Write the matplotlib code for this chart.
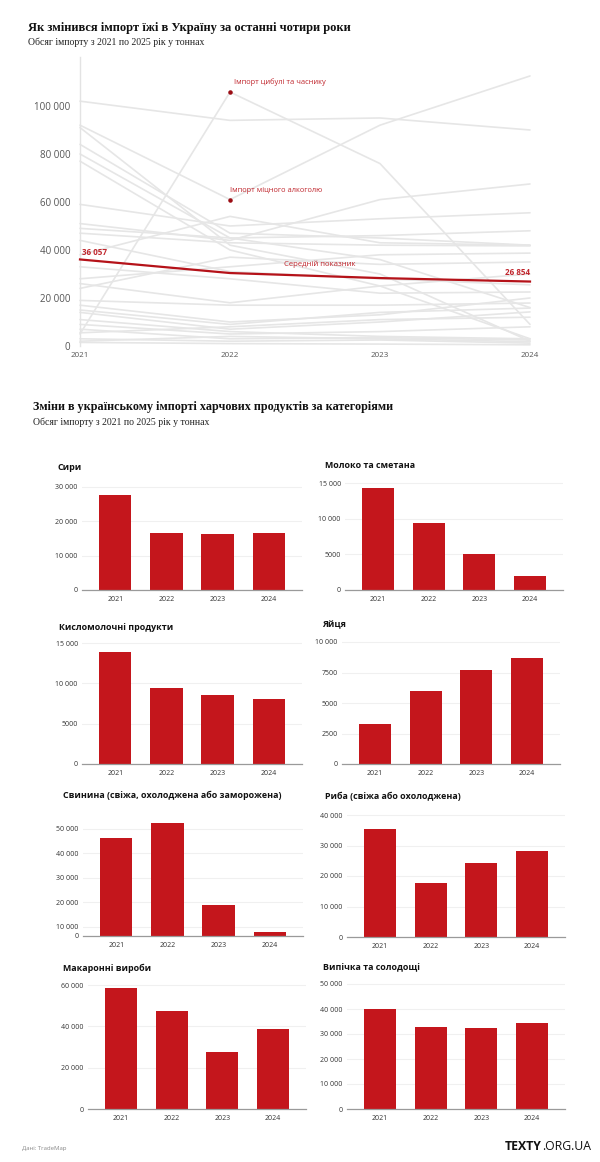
import numpy as np
import matplotlib
matplotlib.use('Agg')
import matplotlib.pyplot as plt

# ---- data ----
years = [2021, 2022, 2023, 2024]
year_labels = ['2021', '2022', '2023', '2024']

# background lines of the top chart (tonnes per year)
product_lines = [
    [102000, 94000, 95000, 90000],
    [5000, 105800, 76000, 9000],
    [92000, 61000, 92000, 112500],
    [91000, 42000, 30000, 2000],
    [84000, 47000, 45000, 42000],
    [80000, 45000, 36000, 16000],
    [77000, 40000, 25000, 3000],
    [59000, 50000, 53000, 55500],
    [51000, 44000, 61000, 67500],
    [49000, 45000, 46000, 48000],
    [38000, 54000, 43000, 42000],
    [28000, 33000, 38000, 38700],
    [26000, 18000, 25000, 30000],
    [24000, 37000, 34000, 35000],
    [19000, 17000, 17000, 17900],
    [17000, 10000, 13000, 20000],
    [15000, 9000, 14000, 15800],
    [14000, 7000, 10000, 14200],
    [9000, 5000, 6000, 8000],
    [7000, 3000, 3500, 2500],
    [3000, 2000, 2500, 1200],
    [1500, 1000, 800, 500],
    [33000, 28000, 22000, 22500],
    [44000, 31000, 28000, 25500],
    [11000, 6000, 4000, 3000],
    [5500, 8000, 11000, 12000],
    [47000, 43000, 42000, 41700],
    [2000, 4000, 3000, 1800],
]
average_line = [36057, 30400, 28300, 26854]
onion_2022 = 105800
alcohol_2022 = 61000

# bar panels
cheese = [27800, 16700, 16300, 16600]
milk = [14350, 9390, 5050, 2000]
sour_milk = [13930, 9360, 8570, 8080]
eggs = [3310, 6000, 7720, 8670]
pork = [46300, 52400, 19000, 7900]
fish = [35400, 17700, 24300, 28200]
pasta = [58500, 47400, 27600, 38700]
sweets = [40000, 32800, 32500, 34500]

# ---- style ----
W, H = 600, 1162
RED = '#c4161c'
LINE_RED = '#b51219'
SANS = ['Open Sans', 'DejaVu Sans']
SERIF = ['Liberation Serif', 'DejaVu Serif']

plt.rcParams['font.family'] = SANS

fig = plt.figure(figsize=(W / 100, H / 100), dpi=100)
fig.patch.set_facecolor('white')


def px_axes(left, top, right, bottom):
    return fig.add_axes([left / W, 1 - bottom / H, (right - left) / W, (bottom - top) / H])


def fx(x):
    return x / W


def fy(y):
    return 1 - y / H


def fmt(v):
    v = int(round(v))
    if v >= 10000:
        return f'{v:,}'.replace(',', ' ')
    return str(v)


# ---- top chart ----
fig.text(fx(28), fy(28), 'Як змінився імпорт їжі в Україну за останні чотири роки',
         family=SERIF, fontweight='bold', fontsize=9.0, color='#111', va='center')
fig.text(fx(28), fy(42), 'Обсяг імпорту з 2021 по 2025 рік у тоннах',
         family=SERIF, fontsize=7, color='#222', va='center')

ax = px_axes(80, 57, 530, 346)
ax.set_xlim(2021, 2024)
ax.set_ylim(0, 120400)
for vals in product_lines:
    ax.plot(years, vals, color='#e6e6e6', lw=1.2, solid_capstyle='round', clip_on=False, zorder=1)
ax.plot(years, average_line, color=LINE_RED, lw=1.6, clip_on=False, zorder=3)
ax.scatter([2022, 2022], [onion_2022, alcohol_2022], s=5, color='#9b0d14', zorder=4)
ax.text(2022.03, onion_2022 + 2500, 'Імпорт цибулі та часнику', color='#c0262d', fontsize=5.4, va='bottom')
ax.text(2022.0, alcohol_2022 + 2500, 'Імпорт міцного алкоголю', color='#c0262d', fontsize=5.4, va='bottom')
ax.text(2022.6, average_line[1] + 2200, 'Середній показник', color='#c0262d', fontsize=5.6,
        ha='center', va='bottom')
ax.text(2021.01, average_line[0] + 1200, fmt(average_line[0]), color='#c0262d', fontsize=5.8,
        fontweight='bold', va='bottom')
ax.text(2024.0, average_line[3] + 2000, fmt(average_line[3]), color='#c0262d', fontsize=5.8,
        fontweight='bold', va='bottom', ha='right')
ax.set_yticks([0, 20000, 40000, 60000, 80000, 100000])
ax.set_yticklabels([fmt(v) for v in [0, 20000, 40000, 60000, 80000, 100000]], fontsize=7, color='#555')
ax.set_xticks(years)
ax.set_xticklabels(year_labels, fontsize=5.8, color='#555')
ax.tick_params(length=0)
ax.tick_params(axis='y', pad=7)
ax.tick_params(axis='x', pad=4)
for s in ['top', 'right', 'bottom']:
    ax.spines[s].set_visible(False)
ax.spines['left'].set_color('#e3e3e3')
ax.spines['left'].set_linewidth(1)
ax.set_facecolor('none')

# ---- second section ----
fig.text(fx(33), fy(407), 'Зміни в українському імпорті харчових продуктів за категоріями',
         family=SERIF, fontweight='bold', fontsize=8.7, color='#111', va='center')
fig.text(fx(33), fy(422), 'Обсяг імпорту з 2021 по 2025 рік у тоннах',
         family=SERIF, fontsize=7, color='#222', va='center')


def bar_panel(title, values, ticks, left, right, baseline, top_px, title_xy,
              floor=0, tick_labels=None):
    # pixel scale from baseline/top tick
    top_val = ticks[-1]
    ppu = (baseline - top_px) / (top_val - floor)
    ymax = max(top_val, max(values)) * 1.02
    ax_top = baseline - (ymax - floor) * ppu
    a = px_axes(left, ax_top, right, baseline)
    a.set_ylim(floor, ymax)
    a.set_xlim(-0.65, 3.65)
    x = np.arange(len(values))
    a.bar(x, values, width=0.63, color=RED, zorder=2)
    a.set_yticks(ticks)
    labels = tick_labels if tick_labels else [fmt(t) for t in ticks]
    a.set_yticklabels(labels, fontsize=5, color='#333')
    a.set_xticks(x)
    a.set_xticklabels(year_labels, fontsize=5, color='#333')
    a.tick_params(length=0)
    a.tick_params(axis='y', pad=3)
    a.tick_params(axis='x', pad=4)
    a.grid(axis='y', color='#f0f0f0', lw=0.8, zorder=0)
    for s in ['top', 'right', 'left']:
        a.spines[s].set_visible(False)
    a.spines['bottom'].set_color('#9a9a9a')
    a.spines['bottom'].set_linewidth(0.9)
    fig.text(fx(title_xy[0]), fy(title_xy[1]), title, fontsize=6.4, fontweight='bold',
             color='#111', va='center')
    return a


bar_panel('Сири', cheese, [0, 10000, 20000, 30000], 82, 302, 590, 487, (57, 468))
bar_panel('Молоко та сметана', milk, [0, 5000, 10000, 15000], 345, 563, 590, 483, (325, 466))
bar_panel('Кисломолочні продукти', sour_milk, [0, 5000, 10000, 15000], 82, 302, 764, 643, (59, 628))
bar_panel('Яйця', eggs, [0, 2500, 5000, 7500, 10000], 342, 560, 764, 642, (322, 625))

pork_floor = 6300
bar_panel('Свинина (свіжа, охолоджена або заморожена)', pork,
          [pork_floor, 10000, 20000, 30000, 40000, 50000], 83, 303, 936, 829, (63, 795),
          floor=pork_floor, tick_labels=['0', '10 000', '20 000', '30 000', '40 000', '50 000'])
bar_panel('Риба (свіжа або охолоджена)', fish, [0, 10000, 20000, 30000, 40000], 347, 565, 937, 815, (325, 796))
bar_panel('Макаронні вироби', pasta, [0, 20000, 40000, 60000], 88, 306, 1109, 985, (63, 968))
bar_panel('Випічка та солодощі', sweets, [0, 10000, 20000, 30000, 40000, 50000], 347, 565, 1109, 984, (323, 968))

# ---- footer ----
fig.text(fx(22), fy(1148), 'Дані: TradeMap', fontsize=4.3, color='#888', va='center')
fig.text(fx(542), fy(1146), 'TEXTY', fontsize=8.8, fontweight='bold', color='#111',
         ha='right', va='center')
fig.text(fx(542), fy(1146), '.ORG.UA', fontsize=8.8, color='#111', ha='left', va='center')

fig.savefig('out.png', dpi=100, facecolor='white')
